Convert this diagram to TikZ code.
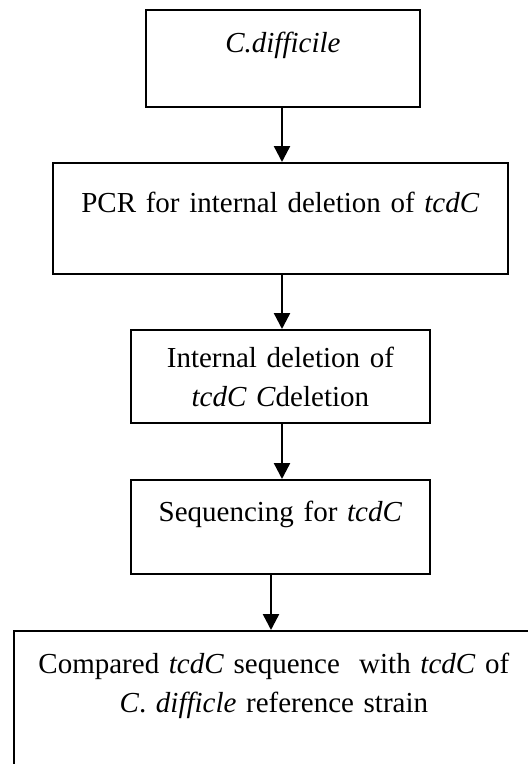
\documentclass[tikz,border=0pt]{standalone}
\usepackage{fontspec}
\setmainfont{Liberation Serif}
\usetikzlibrary{arrows.meta}
\tikzset{
  flowbox/.style={draw, line width=1.8pt, inner sep=0pt, align=center, anchor=north west,
    font=\fontsize{29}{39}\selectfont},
  flowarr/.style={line width=2.4pt, -{Triangle[width=16pt,length=16pt]}}
}
\begin{document}
\begin{tikzpicture}[x=1pt,y=-1pt]
\clip (0,0) rectangle (528,764);
\fill[white] (0,0) rectangle (528,764);
\node[flowbox, text width=274pt, text height=43pt, text depth=54pt] (b1) at (145,9) {\textit{C.difficile}};
\node[flowbox, text width=455pt, text height=50pt, text depth=61pt] (b2) at (52,162) {PCR for internal deletion of \textit{tcdC}};
\node[flowbox, text width=299pt, text height=38pt, text depth=55pt] (b3) at (130,329) {Internal deletion of\\\textit{tcdC C}deletion};
\node[flowbox, text width=299pt, text height=42pt, text depth=52pt] (b4) at (130,479) {Sequencing for \textit{tcdC}};
\node[flowbox, text width=520pt, text height=43pt, text depth=127pt] (b5) at (13,630) {Compared \textit{tcdC} sequence\ \ with \textit{tcdC} of\\\textit{C}. \textit{difficle} reference strain};
\coordinate (a1) at (282,0);
\coordinate (a4) at (271,0);
\draw[flowarr] (b1.south -| a1) -- (b2.north -| a1);
\draw[flowarr] (b2.south -| a1) -- (b3.north -| a1);
\draw[flowarr] (b3.south -| a1) -- (b4.north -| a1);
\draw[flowarr] (b4.south -| a4) -- (b5.north -| a4);
\end{tikzpicture}
\end{document}
